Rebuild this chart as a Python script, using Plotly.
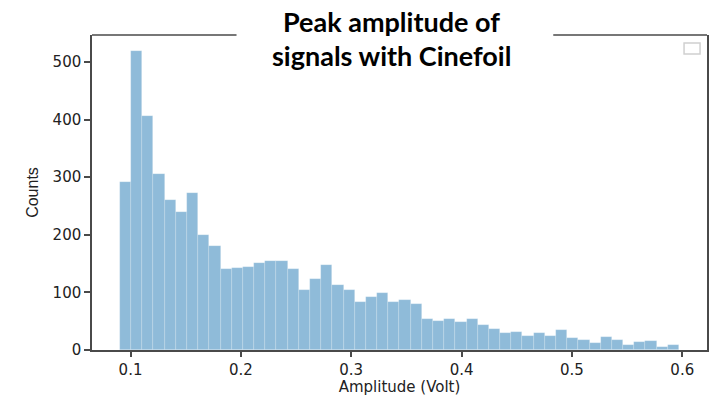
import numpy as np
import plotly.graph_objects as go

# Histogram data (50 bins)
bin_start = 0.0904
bin_end = 0.597
counts = [291, 520, 407, 306, 261, 240, 272, 199, 181, 140,
          142, 144, 151, 155, 155, 140, 105, 124, 147, 113,
          104, 84, 92, 99, 83, 87, 80, 54, 50, 54,
          48, 54, 43, 37, 29, 31, 24, 29, 25, 35,
          21, 18, 13, 22, 18, 9, 14, 15, 5, 9]
x_ticks = [0.1, 0.2, 0.3, 0.4, 0.5, 0.6]
x_tick_labels = ["0.1", "0.2", "0.3", "0.4", "0.5", "0.6"]
y_ticks = [0, 100, 200, 300, 400, 500]
y_tick_labels = ["0", "100", "200", "300", "400", "500"]
title_lines = ["Peak amplitude of", "signals with Cinefoil"]
x_title = "Amplitude (Volt)"
y_title = "Counts"

edges = np.linspace(bin_start, bin_end, len(counts) + 1)
centers = (edges[:-1] + edges[1:]) / 2
width = edges[1] - edges[0]

fig = go.Figure()
fig.add_trace(go.Bar(
    x=centers, y=counts, width=width,
    marker=dict(color="rgba(31,119,180,0.5)",
                line=dict(color="rgba(255,255,255,0.35)", width=0.6)),
    showlegend=False,
))

spine = "#4a4a4a"
tickfont = dict(family="DejaVu Sans", size=15, color="#222222")

fig.update_layout(
    width=710, height=396,
    margin=dict(l=92, r=1, t=35, b=46),
    paper_bgcolor="white", plot_bgcolor="white",
    bargap=0,
    xaxis=dict(range=[0.0651, 0.6224], tickvals=x_ticks, ticktext=x_tick_labels,
               showgrid=False, zeroline=False, showline=True, linecolor=spine,
               linewidth=1.5, ticks="outside", ticklen=5, tickwidth=1.5,
               tickcolor=spine, tickfont=tickfont, automargin=False,
               title=dict(text=x_title, font=dict(family="DejaVu Sans", size=15, color="#222222"),
                          standoff=4)),
    yaxis=dict(range=[0, 547], tickvals=y_ticks, ticktext=y_tick_labels,
               showgrid=False, zeroline=False, showline=True, linecolor=spine,
               linewidth=1.5, mirror=True, ticks="outside", ticklen=6, tickwidth=1.5,
               tickcolor=spine, tickfont=tickfont,
               title=dict(text=y_title, font=dict(family="Liberation Sans Narrow, Liberation Sans", size=16, color="#222222"),
                          standoff=10)),
)

# Top spine, interrupted by the title box
fig.add_shape(type="line", xref="paper", yref="paper", x0=0, x1=0.235, y0=1, y1=1,
              line=dict(color=spine, width=1.5))
fig.add_shape(type="line", xref="paper", yref="paper", x0=0.750, x1=1, y0=1, y1=1,
              line=dict(color=spine, width=1.5))

# Empty legend box
fig.add_shape(type="rect", xref="paper", yref="paper", x0=0.9627, x1=0.9887,
              y0=0.9397, y1=0.9746, line=dict(color="#d0d0d0", width=1.5),
              fillcolor="white")

# Title
fig.add_annotation(text="<b>" + title_lines[0] + "</b>", xref="paper", yref="paper",
                   x=(392 - 92) / 617, y=(350 - 22) / 315, showarrow=False,
                   xanchor="center", yanchor="middle",
                   font=dict(family="Lato", size=27, color="black"))
fig.add_annotation(text="<b>" + title_lines[1] + "</b>", xref="paper", yref="paper",
                   x=(392 - 92) / 617, y=(350 - 55) / 315, showarrow=False,
                   xanchor="center", yanchor="middle",
                   font=dict(family="Lato", size=27, color="black"))

fig.write_html("out.html")
